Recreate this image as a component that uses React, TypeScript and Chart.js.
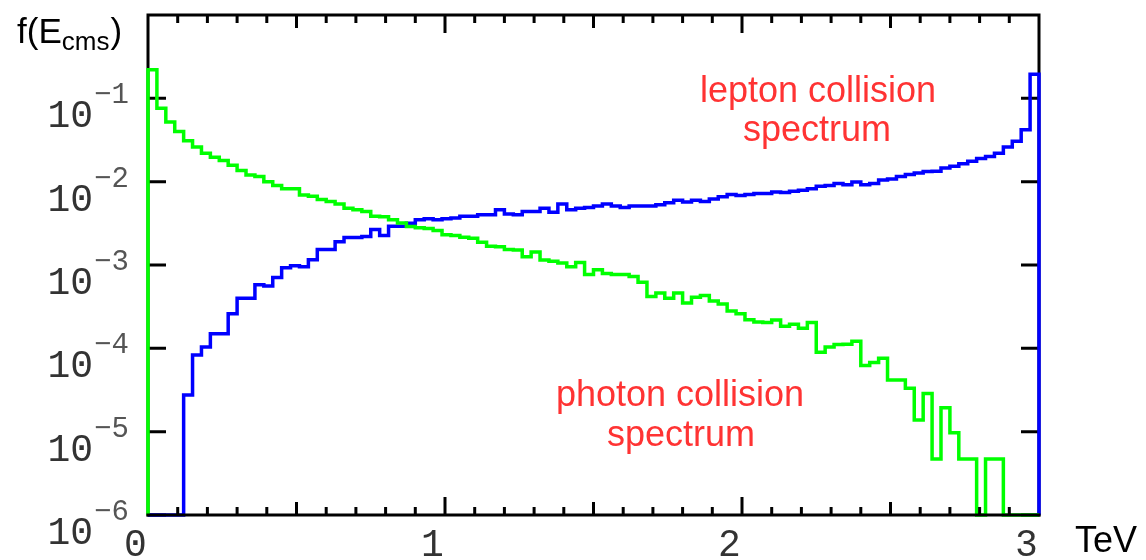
import { useEffect, useRef } from "react";
import { Chart, registerables } from "chart.js";

Chart.register(...registerables);

// Histogram bins: 100 bins of 0.03 TeV from 0 to 3 TeV
const BIN_WIDTH = 0.03;

// photon collision spectrum (green)
const photonSpectrum = [
  0.22, 0.076, 0.052, 0.040, 0.031, 0.026, 0.022, 0.0197, 0.018, 0.0157,
  0.0136, 0.0120, 0.0115, 0.0100, 0.0090, 0.0082, 0.0082, 0.0069, 0.0067, 0.0061,
  0.0058, 0.0054, 0.0048, 0.0046, 0.0044, 0.00385, 0.0038, 0.0035, 0.0032, 0.0029,
  0.0028, 0.00275, 0.0026, 0.0023, 0.00226, 0.00216, 0.0021, 0.00188, 0.00168, 0.00166,
  0.00153, 0.00151, 0.00126, 0.00143, 0.00115, 0.00111, 0.00106, 0.00095, 0.00107, 0.00077,
  0.00088, 0.00079, 0.00077, 0.00077, 0.00073, 0.00062, 0.00042, 0.00046, 0.00040, 0.00046,
  0.00035, 0.00041, 0.00043, 0.00037, 0.00034, 0.00028, 0.00026, 0.00022, 0.000207, 0.000204,
  0.000219, 0.000184, 0.000195, 0.000174, 0.000204, 0.00009, 0.000104, 0.000111, 0.000112, 0.000122,
  0.0000624, 0.0000676, 0.0000759, 0.0000417, 0.0000417, 0.0000331, 0.0000138, 0.0000288, 0.0000047, 0.0000193,
  0.0000097, 0.0000047, 0.0000047, 0, 0.0000047, 0.0000047, 0, 0, 0, 0,
];

// lepton collision spectrum (blue)
const leptonSpectrum = [
  0, 0, 0, 0, 2.75e-5, 8.3e-5, 1.04e-4, 1.5e-4, 1.5e-4, 2.6e-4,
  4.0e-4, 4.0e-4, 5.8e-4, 5.6e-4, 7.1e-4, 9.3e-4, 9.8e-4, 9.5e-4, 1.16e-3, 1.53e-3,
  1.53e-3, 1.9e-3, 2.14e-3, 2.14e-3, 2.2e-3, 2.66e-3, 2.26e-3, 2.92e-3, 2.92e-3, 3.16e-3,
  3.5e-3, 3.6e-3, 3.5e-3, 3.6e-3, 3.67e-3, 3.85e-3, 3.85e-3, 4.0e-3, 4.0e-3, 4.6e-3,
  4.1e-3, 4.0e-3, 4.4e-3, 4.4e-3, 4.8e-3, 4.3e-3, 5.4e-3, 4.6e-3, 4.8e-3, 4.9e-3,
  5.1e-3, 5.4e-3, 5.1e-3, 4.9e-3, 5.1e-3, 5.1e-3, 5.1e-3, 5.3e-3, 5.6e-3, 6.0e-3,
  5.7e-3, 6.0e-3, 5.8e-3, 6.2e-3, 6.6e-3, 7.0e-3, 6.8e-3, 7.0e-3, 7.2e-3, 7.2e-3,
  7.5e-3, 7.4e-3, 7.7e-3, 7.9e-3, 8.2e-3, 8.8e-3, 9.0e-3, 9.5e-3, 9.2e-3, 9.9e-3,
  9.2e-3, 9.5e-3, 1.05e-2, 1.08e-2, 1.15e-2, 1.22e-2, 1.27e-2, 1.32e-2, 1.33e-2, 1.46e-2,
  1.53e-2, 1.64e-2, 1.76e-2, 1.9e-2, 2.0e-2, 2.2e-2, 2.6e-2, 3.05e-2, 4.2e-2, 0.195,
];

const xTickValues = [0, 1, 2, 3];
const xTickLabels = ["0", "1", "2", "3"];
const yTickValues = [1e-1, 1e-2, 1e-3, 1e-4, 1e-5, 1e-6];
const yTickExponents = ["\u22121", "\u22122", "\u22123", "\u22124", "\u22125", "\u22126"];

const X_MIN = 0;
const X_MAX = 3;
const Y_MIN = 1e-6;
const Y_MAX = 1;

const annotationLepton = ["lepton collision", "spectrum"];
const annotationPhoton = ["photon collision", "spectrum"];

function toSteps(values: number[]) {
  const pts: { x: number; y: number }[] = [{ x: 0, y: 0 }];
  values.forEach((v, i) => pts.push({ x: i * BIN_WIDTH, y: v }));
  pts.push({ x: values.length * BIN_WIDTH, y: 0 });
  return pts;
}

const MONO = '"Liberation Mono", "DejaVu Sans Mono", monospace';
const SANS = '"Liberation Sans", Arial, sans-serif';

const framePlugin = {
  id: "frame",
  beforeDatasetsDraw(chart: any) {
    const { ctx, chartArea } = chart;
    const { left, right, top, bottom } = chartArea;
    const xs = chart.scales.x;
    const ys = chart.scales.y;
    ctx.save();
    ctx.strokeStyle = "#000";
    ctx.lineWidth = 3;
    ctx.lineCap = "butt";
    ctx.beginPath();
    ctx.moveTo(left, bottom + 1.5);
    ctx.lineTo(left, top);
    ctx.lineTo(right, top);
    ctx.lineTo(right, bottom + 1.5);
    ctx.stroke();
    ctx.beginPath();
    yTickValues.forEach((v) => {
      const py = ys.getPixelForValue(v);
      ctx.moveTo(left, py);
      ctx.lineTo(left + 18, py);
      ctx.moveTo(right - 18, py);
      ctx.lineTo(right, py);
    });
    for (let k = 1; k < 30; k++) {
      const px = xs.getPixelForValue(k / 10);
      const len = k % 10 === 0 ? 18 : k % 5 === 0 ? 13 : 8;
      ctx.moveTo(px, top);
      ctx.lineTo(px, top + len);
    }
    ctx.stroke();
    ctx.restore();
  },
  afterDatasetsDraw(chart: any) {
    const { ctx, chartArea } = chart;
    const { left, right, bottom } = chartArea;
    const xs = chart.scales.x;
    const ys = chart.scales.y;
    ctx.save();
    ctx.strokeStyle = "#000";
    ctx.lineWidth = 3;
    ctx.beginPath();
    ctx.moveTo(left - 1.5, bottom);
    ctx.lineTo(right + 1.5, bottom);
    for (let k = 1; k < 30; k++) {
      const px = xs.getPixelForValue(k / 10);
      const len = k % 10 === 0 ? 18 : k % 5 === 0 ? 13 : 8;
      ctx.moveTo(px, bottom);
      ctx.lineTo(px, bottom - len);
    }
    ctx.stroke();

    // y tick labels 10^-n
    yTickValues.forEach((v, i) => {
      const py = ys.getPixelForValue(v);
      ctx.fillStyle = "#333";
      ctx.font = `38px ${MONO}`;
      ctx.textAlign = "right";
      ctx.textBaseline = "alphabetic";
      ctx.fillText("10", left - 55, py + 29);
      ctx.font = `29px ${MONO}`;
      ctx.textAlign = "left";
      ctx.fillStyle = "#555";
      ctx.fillText(yTickExponents[i], left - 54, py + 5);
    });
    // x tick labels
    ctx.fillStyle = "#333";
    ctx.font = `38px ${MONO}`;
    ctx.textAlign = "center";
    xTickValues.forEach((v, i) => {
      const px = xs.getPixelForValue(v);
      ctx.fillText(xTickLabels[i], px - 12.5, bottom + 41);
    });
    // axis titles
    ctx.fillStyle = "#000";
    ctx.font = `36px ${SANS}`;
    ctx.textAlign = "left";
    ctx.fillText("TeV", 1075, 552);

    ctx.font = `35px ${SANS}`;
    let x = 17;
    ctx.fillText("f(E", x, 43);
    x += ctx.measureText("f(E").width;
    ctx.font = `26px ${SANS}`;
    ctx.fillText("cms", x, 50);
    x += ctx.measureText("cms").width;
    ctx.font = `35px ${SANS}`;
    ctx.fillText(")", x + 1, 43);

    // annotations
    ctx.fillStyle = "#ff3333";
    ctx.font = `36px ${SANS}`;
    ctx.textAlign = "center";
    ctx.fillText(annotationLepton[0], 818, 102);
    ctx.fillText(annotationLepton[1], 817, 141);
    ctx.fillText(annotationPhoton[0], 680, 406);
    ctx.fillText(annotationPhoton[1], 681, 446);
    ctx.restore();
  },
};

export default function App() {
  const canvasRef = useRef<HTMLCanvasElement | null>(null);

  useEffect(() => {
    const canvas = canvasRef.current;
    if (!canvas) return;
    const chart = new Chart(canvas, {
      type: "line",
      data: {
        datasets: [
          {
            label: "photon collision spectrum",
            data: toSteps(photonSpectrum),
            borderColor: "#00ff00",
            borderWidth: 3.5,
            stepped: "before",
            pointRadius: 0,
            fill: false,
            clip: 4,
          },
          {
            label: "lepton collision spectrum",
            data: toSteps(leptonSpectrum),
            borderColor: "#0000ff",
            borderWidth: 3.5,
            stepped: "before",
            pointRadius: 0,
            fill: false,
            clip: 4,
          },
        ],
      },
      options: {
        animation: false,
        responsive: false,
        devicePixelRatio: 1,
        parsing: false as any,
        layout: { padding: { left: 148, right: 107, top: 15, bottom: 45 } },
        scales: {
          x: { type: "linear", min: X_MIN, max: X_MAX, display: false },
          y: { type: "logarithmic", min: Y_MIN, max: Y_MAX, display: false },
        },
        plugins: {
          legend: { display: false },
          tooltip: { enabled: false },
        },
      },
      plugins: [framePlugin],
    } as any);
    return () => chart.destroy();
  }, []);

  return (
    <div style={{ position: "absolute", left: 0, top: 0, width: 1146, height: 560, background: "#fff" }}>
      <canvas ref={canvasRef} width={1146} height={560} style={{ display: "block" }} />
    </div>
  );
}
